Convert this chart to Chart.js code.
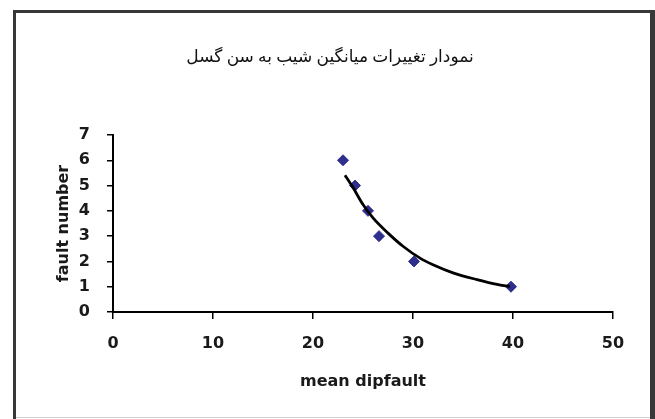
<!DOCTYPE html>
<html lang="en">
<head>
    <meta charset="UTF-8">
    <title>Fault number vs mean dip</title>
    <style>
        html, body { margin: 0; padding: 0; background: #fff; }
        #wrap { width: 655px; height: 419px; position: relative; }
    </style>
    <script src="https://cdn.jsdelivr.net/npm/chart.js"></script>
</head>
<body>
    <div id="wrap">
        <canvas id="faultChart" width="655" height="419"></canvas>
    </div>

    <script>
        // measured points (mean dip of faults vs fault number)
        var meanDip = [23.0, 24.2, 25.5, 26.6, 30.1, 39.8];
        var faultNumber = [6, 5, 4, 3, 2, 1];

        // trend line
        var trendDip = [23.2, 24.0, 25.0, 26.0, 27.5, 29.0, 30.7, 32.0, 34.0, 36.4, 38.4, 39.7];
        var trendFault = [5.41, 4.92, 4.25, 3.72, 3.12, 2.60, 2.13, 1.87, 1.55, 1.28, 1.09, 1.01];

        var xTicks = [0, 10, 20, 30, 40, 50];
        var yTicks = [0, 1, 2, 3, 4, 5, 6, 7];

        var chartTitle = 'نمودار تغییرات میانگین شیب به سن گسل';
        var xTitle = 'mean dipfault';
        var yTitle = 'fault number';

        function toPoints(xs, ys) {
            var pts = [];
            for (var i = 0; i < xs.length; i++) {
                pts.push({ x: xs[i], y: ys[i] });
            }
            return pts;
        }

        // outer frame like the original picture
        var framePlugin = {
            id: 'frame',
            beforeDraw: function (chart) {
                var ctx = chart.ctx;
                ctx.save();
                ctx.fillStyle = '#fff';
                ctx.fillRect(0, 0, chart.width, chart.height);
                ctx.strokeStyle = '#d0d0d0';
                ctx.lineWidth = 1;
                ctx.beginPath();
                ctx.moveTo(13, 417.5);
                ctx.lineTo(650, 417.5);
                ctx.stroke();
                ctx.strokeStyle = '#383838';
                ctx.lineWidth = 3;
                ctx.beginPath();
                ctx.moveTo(14.5, 419);
                ctx.lineTo(14.5, 11.5);
                ctx.lineTo(655, 11.5);
                ctx.stroke();
                ctx.lineWidth = 5;
                ctx.beginPath();
                ctx.moveTo(652.5, 10);
                ctx.lineTo(652.5, 419);
                ctx.stroke();
                ctx.restore();
            }
        };

        var tickFont = { family: "'DejaVu Sans', Arial, sans-serif", size: 16, weight: 'bold' };
        var titleFont = { family: "'DejaVu Sans', Arial, sans-serif", size: 16, weight: 'bold' };

        var ctx = document.getElementById('faultChart').getContext('2d');
        var chart = new Chart(ctx, {
            type: 'scatter',
            data: {
                datasets: [{
                    type: 'line',
                    label: 'trend',
                    data: toPoints(trendDip, trendFault),
                    borderColor: '#000',
                    borderWidth: 2.8,
                    pointRadius: 0,
                    cubicInterpolationMode: 'monotone',
                    fill: false
                }, {
                    label: 'faults',
                    data: toPoints(meanDip, faultNumber),
                    pointStyle: 'rectRot',
                    pointRadius: 5.5,
                    backgroundColor: '#2e2e8c',
                    borderColor: '#2e2e8c',
                    borderWidth: 1
                }]
            },
            options: {
                responsive: false,
                animation: false,
                layout: { padding: { left: 47, right: 42, top: 40, bottom: 20 } },
                plugins: {
                    legend: { display: false },
                    tooltip: { enabled: false },
                    title: {
                        display: true,
                        text: chartTitle,
                        color: '#111',
                        font: { family: "'Times New Roman', 'Liberation Serif', 'DejaVu Sans', serif", size: 17, weight: 'normal' },
                        padding: { top: 7, bottom: 67.6 }
                    }
                },
                scales: {
                    x: {
                        type: 'linear',
                        min: 0,
                        max: 50,
                        afterFit: function (scale) { scale.height = 87; },
                        afterBuildTicks: function (scale) {
                            scale.ticks = xTicks.map(function (v) { return { value: v }; });
                        },
                        ticks: { color: '#1a1a1a', font: tickFont, padding: 15, maxRotation: 0 },
                        grid: { drawOnChartArea: false, tickLength: 7, color: '#000', lineWidth: 1.5 },
                        border: { color: '#000', width: 2 },
                        title: { display: true, text: xTitle, color: '#1a1a1a', font: titleFont, padding: { top: 0, bottom: 8 } }
                    },
                    y: {
                        type: 'linear',
                        min: 0,
                        max: 7,
                        afterFit: function (scale) { scale.width = 66; },
                        afterBuildTicks: function (scale) {
                            scale.ticks = yTicks.map(function (v) { return { value: v }; });
                        },
                        ticks: { color: '#1a1a1a', font: tickFont, padding: 17 },
                        grid: { drawOnChartArea: false, tickLength: 6, color: '#000', lineWidth: 1.5 },
                        border: { color: '#000', width: 2 },
                        title: { display: true, text: yTitle, color: '#1a1a1a', font: titleFont, padding: { top: 7, bottom: 0 } }
                    }
                }
            },
            plugins: [framePlugin]
        });
    </script>
</body>
</html>
